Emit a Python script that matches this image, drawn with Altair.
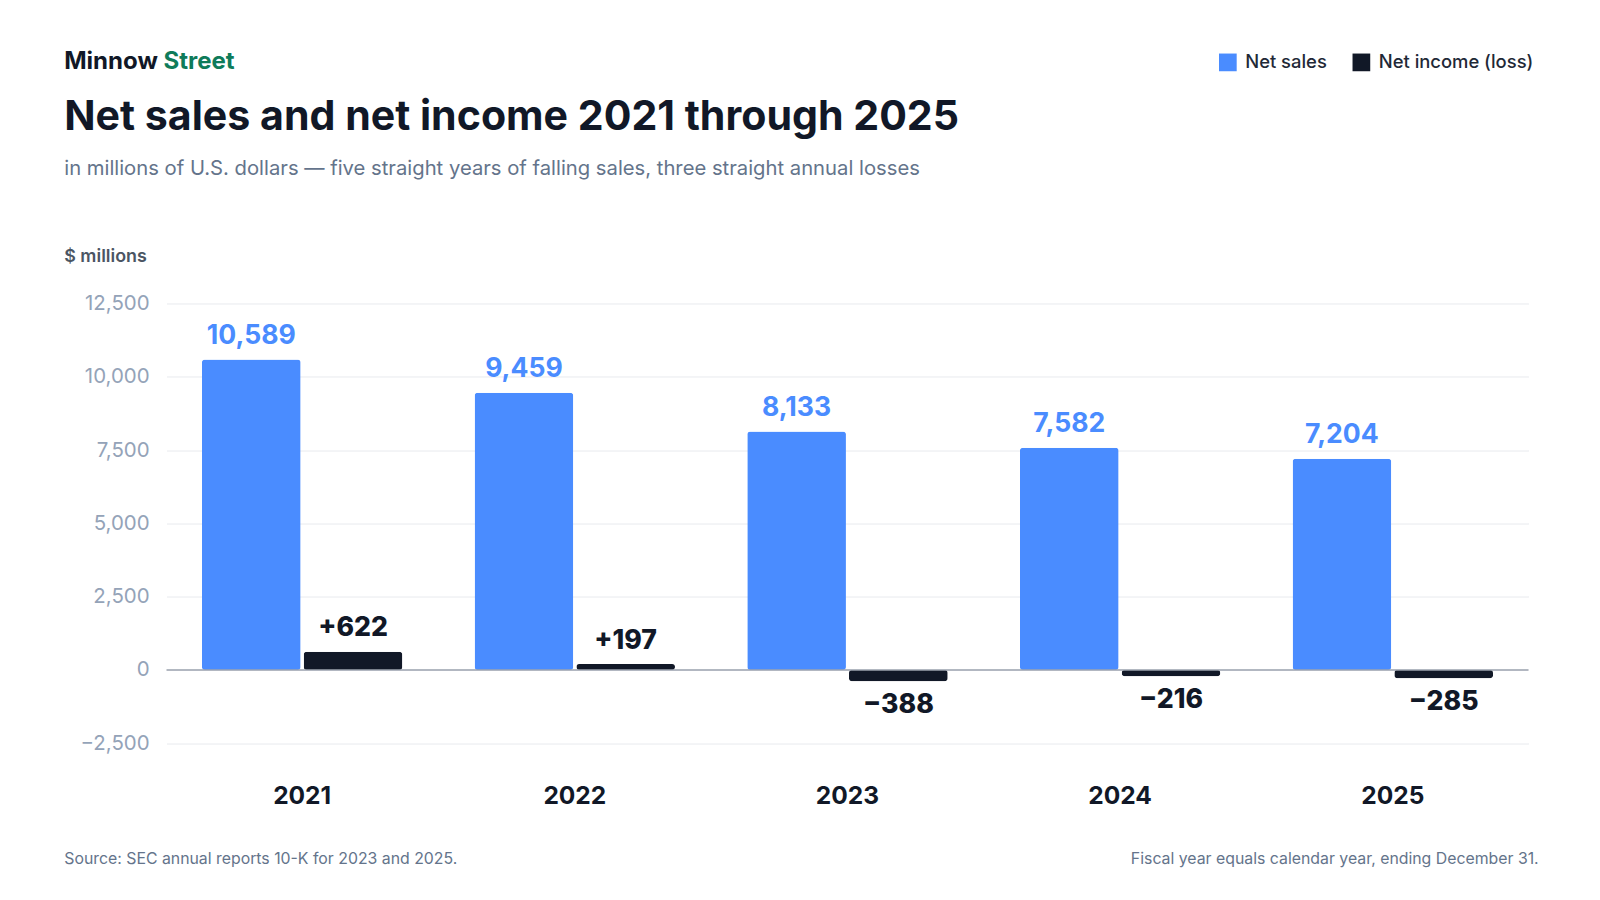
import altair as alt
import pandas as pd

years = ["2021", "2022", "2023", "2024", "2025"]
net_sales = [10589, 9459, 8133, 7582, 7204]
net_income = [622, 197, -388, -216, -285]
sales_labels = ["10,589", "9,459", "8,133", "7,582", "7,204"]
income_labels = ["+622", "+197", "\u2212388", "\u2212216", "\u2212285"]
series = ["Net sales", "Net income (loss)"]
colors = ["#4a8cff", "#111827"]

FONT = "Inter"
S = 1.0225  # the screenshot comes out slightly shrunk; compensate

rows = []
for i, y in enumerate(years):
    rows.append({"year": y, "series": series[0], "value": net_sales[i], "label": sales_labels[i]})
    rows.append({"year": y, "series": series[1], "value": net_income[i], "label": income_labels[i]})
df = pd.DataFrame(rows)

x = alt.X("year:N", title=None, scale=alt.Scale(paddingInner=0.265, paddingOuter=0.13),
          axis=alt.Axis(labelAngle=0, labelFontSize=24 * S, labelFontWeight="bold", labelColor="#111827",
                        labelPadding=40 * S, domain=False, ticks=False, labelFont=FONT))
xo = alt.XOffset("series:N", sort=series, scale=alt.Scale(paddingInner=0.03))
y = alt.Y("value:Q", title=None, scale=alt.Scale(domain=[-2500, 12500], nice=False),
          axis=alt.Axis(values=[-2500, 0, 2500, 5000, 7500, 10000, 12500], format=",.0f",
                        labelFontSize=20 * S, labelColor="#94a3b8", labelPadding=17 * S, domain=False,
                        ticks=False, gridColor="#e8eaee", labelFont=FONT))
color = alt.Color("series:N", sort=series, scale=alt.Scale(domain=series, range=colors),
                  legend=alt.Legend(title=None, orient="none", direction="horizontal",
                                    legendX=1029 * S, legendY=-245 * S, symbolType="square",
                                    symbolSize=300 * S * S, symbolStrokeWidth=0, symbolOpacity=1,
                                    labelFontSize=18 * S, labelColor="#1f2937", labelFont=FONT,
                                    labelFontWeight=500, columnPadding=24 * S, labelOffset=8 * S))

base = alt.Chart(df)
bars = base.mark_bar(cornerRadius=3).encode(x=x, xOffset=xo, y=y, color=color)
zero = alt.Chart(pd.DataFrame({"z": [0]})).mark_rule(color="#9ca3af", strokeWidth=1.5).encode(y="z:Q")

lab_sales = base.transform_filter(alt.datum.series == series[0]).mark_text(
    dy=-23 * S, fontSize=26 * S, fontWeight="bold", font=FONT, color="#4a8cff").encode(
    x=x, xOffset=xo, y=y, text="label:N")
lab_pos = base.transform_filter((alt.datum.series == series[1]) & (alt.datum.value >= 0)).mark_text(
    dy=-23 * S, fontSize=26 * S, fontWeight=800, font=FONT, color="#111827").encode(
    x=x, xOffset=xo, y=y, text="label:N")
lab_neg = base.transform_filter((alt.datum.series == series[1]) & (alt.datum.value < 0)).mark_text(
    dy=23 * S, fontSize=26 * S, fontWeight=800, font=FONT, color="#111827").encode(
    x=x, xOffset=xo, y=y, text="label:N")


def txt(s, xp, yp, size, color, weight="normal", align="left"):
    return alt.Chart(pd.DataFrame({"t": [s]})).mark_text(
        align=align, baseline="middle", fontSize=size * S, fontWeight=weight, font=FONT, color=color
    ).encode(x=alt.value((xp - 8 - 155) * S), y=alt.value((yp - 8 - 289) * S), text="t:N")


annot = [
    txt("Minnow", 63, 61, 23.5, "#111827", "bold"),
    txt("Street", 160, 61, 23.5, "#0f7b5a", "bold"),
    txt("Net sales and net income 2021 through 2025", 63, 116, 40.2, "#111827", "bold"),
    txt("in millions of U.S. dollars \u2014 five straight years of falling sales, three straight annual losses",
        63, 165, 19.8, "#64748b"),
    txt("$ millions", 63, 252, 17.5, "#4b5563", 600),
    txt("Source: SEC annual reports 10-K for 2023 and 2025.", 63, 840, 15.5, "#64748b"),
    txt("Fiscal year equals calendar year, ending December 31.", 1505, 840, 15.5, "#64748b", align="right"),
]

chart = alt.layer(bars, zero, lab_sales, lab_pos, lab_neg, *annot).properties(
    width=1332 * S, height=430 * S,
    background="white",
    autosize=alt.AutoSizeParams(type="none"),
    padding={"left": 155 * S, "top": 289 * S, "right": 30, "bottom": 150},
).configure_view(stroke=None)

chart.save("out.html", embed_options={"renderer": "svg", "actions": False})
